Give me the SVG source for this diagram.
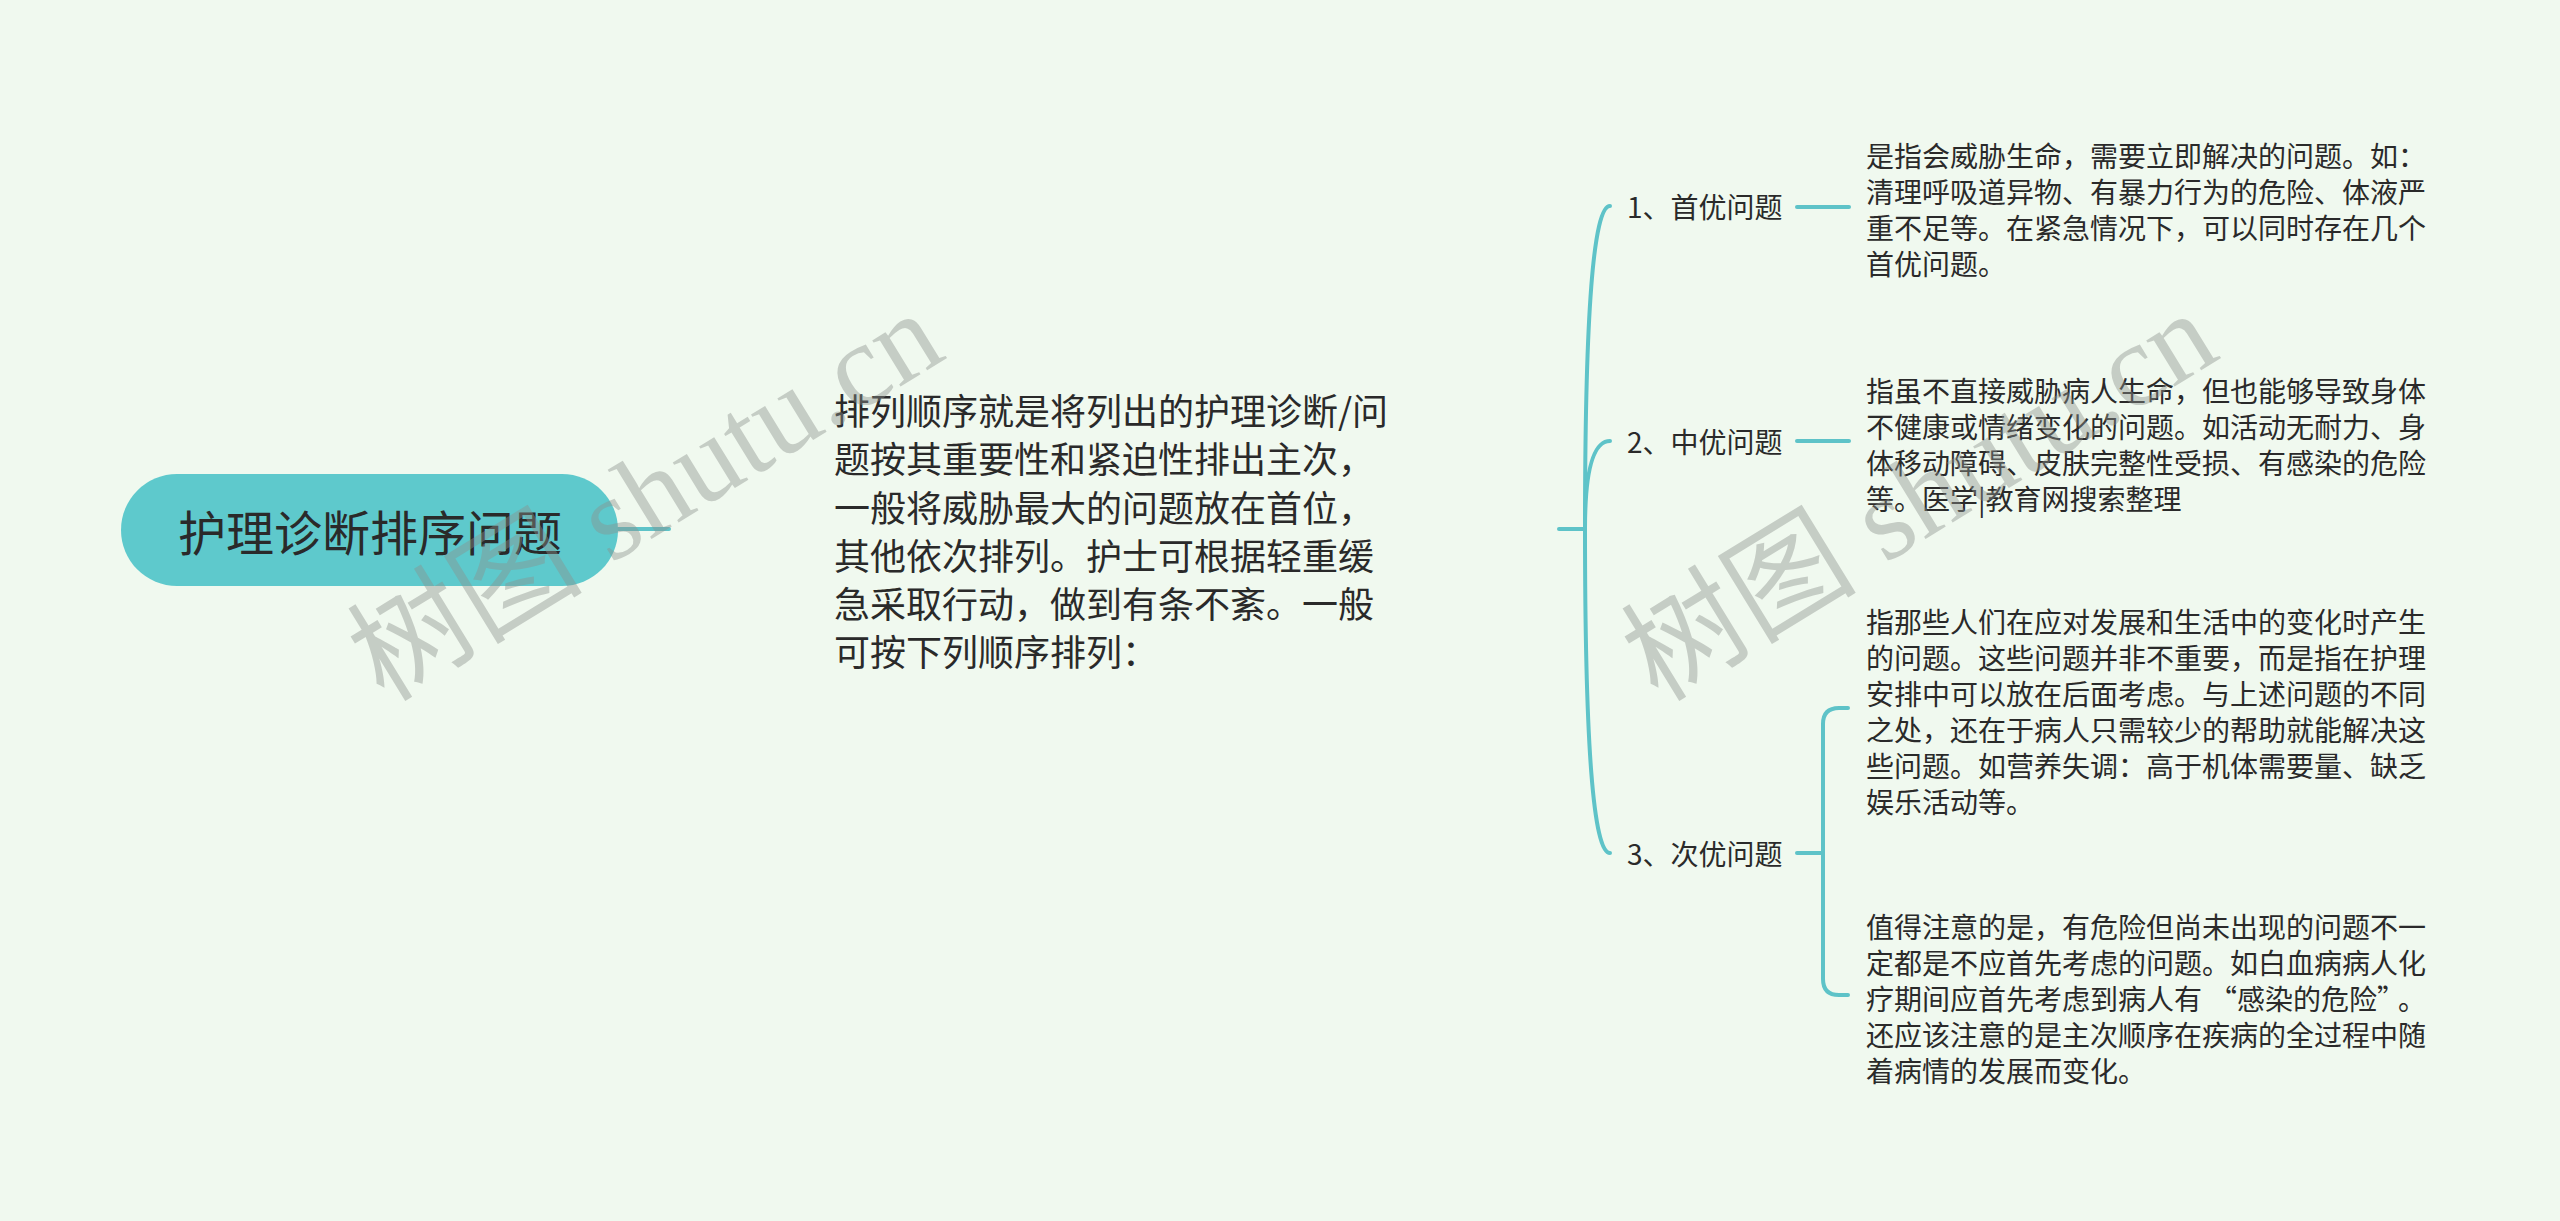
<svg xmlns="http://www.w3.org/2000/svg" width="2560" height="1221" viewBox="0 0 2560 1221">
<style>
.bg{fill:#f0f9ef}
.t{font-family:"Noto Sans CJK SC","Noto Sans",sans-serif;fill:#2a2a2a;dominant-baseline:central}
.c36{font-size:36px}
.c28{font-size:28px}
.link{fill:none;stroke:#5ec3c8;stroke-width:4;stroke-linecap:round;stroke-linejoin:round}
.wm{font-family:"Liberation Serif","Noto Sans CJK SC",serif;font-size:118px;fill:#8c918c;opacity:.42}
</style>
<rect class="bg" x="0" y="0" width="2560" height="1221"/>
<g id="connectors">
<path class="link" d="M618,529 L669,529"/>
<path class="link" d="M1559,529 L1585,529"/>
<path class="link" d="M1585,529 Q1585,206 1610,206"/>
<path class="link" d="M1585,529 Q1585,441 1610,441"/>
<path class="link" d="M1585,529 Q1585,853 1610,853"/>
<path class="link" d="M1797,207 L1849,207"/>
<path class="link" d="M1797,441 L1849,441"/>
<path class="link" d="M1797,853 L1823,853"/>
<path class="link" d="M1823,853 L1823,724 Q1823,708 1839,708 L1848,708"/>
<path class="link" d="M1823,853 L1823,979 Q1823,995 1839,995 L1848,995"/>
</g>
<g id="root">
<rect x="121" y="474" width="497" height="112" rx="56" fill="#5ec9cc"/>
<text class="t" x="370" y="530" font-size="48" text-anchor="middle">护理诊断排序问题</text>
</g>
<g id="center">
<text class="t c36" x="834" y="409">排列顺序就是将列出的护理诊断/问</text>
<text class="t c36" x="834" y="457">题按其重要性和紧迫性排出主次，</text>
<text class="t c36" x="834" y="506">一般将威胁最大的问题放在首位，</text>
<text class="t c36" x="834" y="554">其他依次排列。护士可根据轻重缓</text>
<text class="t c36" x="834" y="602">急采取行动，做到有条不紊。一般</text>
<text class="t c36" x="834" y="650">可按下列顺序排列：</text>
</g>
<g id="label1"><text class="t c28" x="1627" y="206">1、首优问题</text></g>
<g id="label2"><text class="t c28" x="1627" y="441">2、中优问题</text></g>
<g id="label3"><text class="t c28" x="1627" y="853">3、次优问题</text></g>
<g id="detail1">
<text class="t c28" x="1866" y="155">是指会威胁生命，需要立即解决的问题。如：</text>
<text class="t c28" x="1866" y="191">清理呼吸道异物、有暴力行为的危险、体液严</text>
<text class="t c28" x="1866" y="227">重不足等。在紧急情况下，可以同时存在几个</text>
<text class="t c28" x="1866" y="263">首优问题。</text>
</g>
<g id="detail2">
<text class="t c28" x="1866" y="390">指虽不直接威胁病人生命，但也能够导致身体</text>
<text class="t c28" x="1866" y="426">不健康或情绪变化的问题。如活动无耐力、身</text>
<text class="t c28" x="1866" y="462">体移动障碍、皮肤完整性受损、有感染的危险</text>
<text class="t c28" x="1866" y="498">等。医学|教育网搜索整理</text>
</g>
<g id="detail3a">
<text class="t c28" x="1866" y="621">指那些人们在应对发展和生活中的变化时产生</text>
<text class="t c28" x="1866" y="657">的问题。这些问题并非不重要，而是指在护理</text>
<text class="t c28" x="1866" y="693">安排中可以放在后面考虑。与上述问题的不同</text>
<text class="t c28" x="1866" y="729">之处，还在于病人只需较少的帮助就能解决这</text>
<text class="t c28" x="1866" y="765">些问题。如营养失调：高于机体需要量、缺乏</text>
<text class="t c28" x="1866" y="801">娱乐活动等。</text>
</g>
<g id="detail3b">
<text class="t c28" x="1866" y="926">值得注意的是，有危险但尚未出现的问题不一</text>
<text class="t c28" x="1866" y="962">定都是不应首先考虑的问题。如白血病病人化</text>
<text class="t c28" x="1866" y="998">疗期间应首先考虑到病人有<tspan dx="7">“感染的危险”</tspan><tspan dx="7">。</tspan></text>
<text class="t c28" x="1866" y="1034">还应该注意的是主次顺序在疾病的全过程中随</text>
<text class="t c28" x="1866" y="1070">着病情的发展而变化。</text>
</g>
<g id="watermarks">
<text class="wm" x="384" y="703" transform="rotate(-31.5 384 703)">树图 shutu.cn</text>
<text class="wm" x="1658" y="703" transform="rotate(-31.5 1658 703)">树图 shutu.cn</text>
</g>
</svg>
